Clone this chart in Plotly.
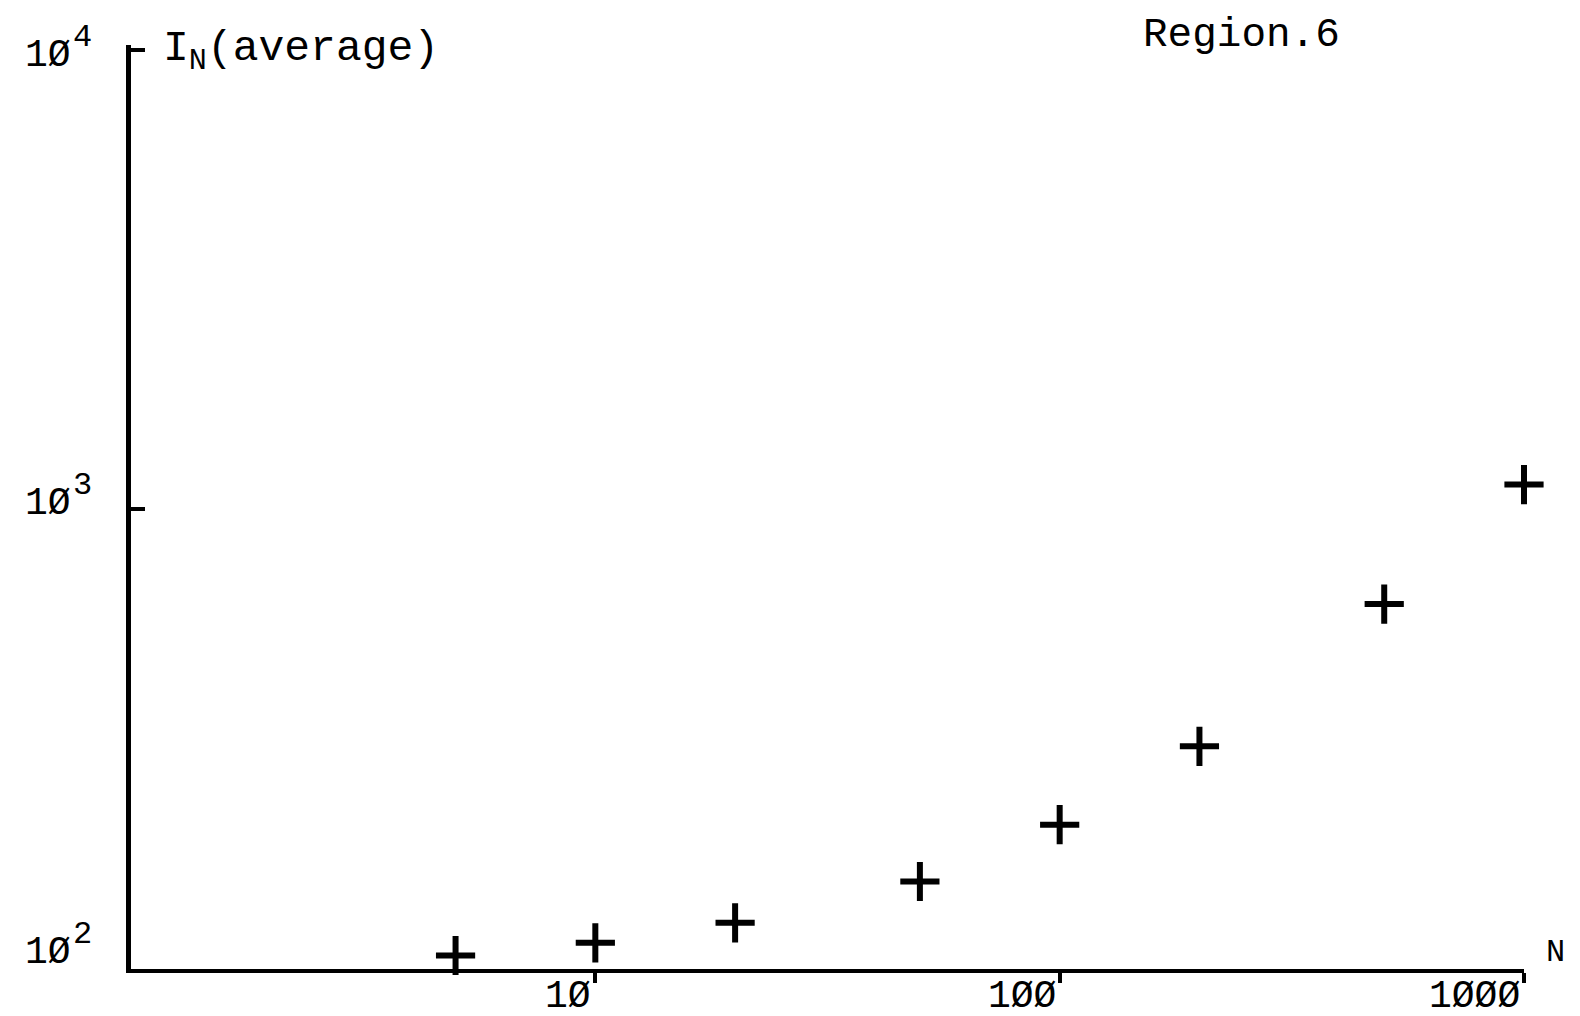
import math
import plotly.graph_objects as go

# Data
N_values = [5, 10, 20, 50, 100, 200, 500, 1000]
I_average = [107, 114, 126, 155, 206, 305, 622, 1132]

y_tick_vals = [100, 1000, 10000]
y_tick_base = ["1Ø", "1Ø", "1Ø"]
y_tick_exp = ["2", "3", "4"]
x_tick_vals = [10, 100, 1000]
x_tick_text = ["1Ø", "1ØØ", "1ØØØ"]

FONT = "Liberation Mono"
y_label_shift = [17, 6, -6]  # pixel offsets of the typed labels

fig = go.Figure()
fig.add_trace(go.Scatter(
    x=N_values, y=I_average, mode="markers",
    marker=dict(symbol="cross-thin", size=28, color="black",
                line=dict(color="black", width=6)),
    showlegend=False, cliponaxis=False,
))

annotations = []
for v, t in zip(x_tick_vals, x_tick_text):
    annotations.append(dict(x=math.log10(v), y=0, xref="x", yref="paper", text=t,
                            showarrow=False, xanchor="right", yanchor="middle",
                            xshift=-2, yshift=-27,
                            font=dict(family=FONT, size=38, color="black")))
for v, b, e, s in zip(y_tick_vals, y_tick_base, y_tick_exp, y_label_shift):
    annotations.append(dict(x=0, y=math.log10(v), xref="paper", yref="y", text=b,
                            showarrow=False, xanchor="right", yanchor="middle",
                            xshift=-58, yshift=s,
                            font=dict(family=FONT, size=38, color="black")))
    annotations.append(dict(x=0, y=math.log10(v), xref="paper", yref="y", text=e,
                            showarrow=False, xanchor="left", yanchor="middle",
                            xshift=-60, yshift=s + 18,
                            font=dict(family=FONT, size=32, color="black")))
annotations += [
    dict(x=0, y=1, xref="paper", yref="paper",
         text="I<sub>N</sub>(average)",
         showarrow=False, xanchor="left", yanchor="middle", xshift=30, yshift=-6,
         font=dict(family=FONT, size=43, color="black")),
    dict(x=0.797, y=1, xref="paper", yref="paper", text="Region.6",
         showarrow=False, xanchor="center", yanchor="middle", yshift=10,
         font=dict(family=FONT, size=41, color="black")),
    dict(x=1, y=0, xref="paper", yref="paper", text="N",
         showarrow=False, xanchor="left", yanchor="middle", xshift=20, yshift=17,
         font=dict(family=FONT, size=32, color="black")),
]

fig.update_layout(
    width=1580, height=1016,
    margin=dict(l=123, r=64, t=37, b=55),
    paper_bgcolor="white", plot_bgcolor="white",
    xaxis=dict(type="log", range=[0, 3.0], showgrid=False, zeroline=False,
               showline=True, linecolor="black", linewidth=4,
               tickvals=x_tick_vals, ticktext=["", "", ""],
               ticks="outside", ticklen=10, tickwidth=4, tickcolor="black"),
    yaxis=dict(type="log", range=[2, 4.01], showgrid=False, zeroline=False,
               showline=True, linecolor="black", linewidth=5,
               tickvals=y_tick_vals, ticktext=["", "", ""],
               ticks="inside", ticklen=14, tickwidth=4, tickcolor="black"),
    annotations=annotations,
)

fig.write_html("out.html")
